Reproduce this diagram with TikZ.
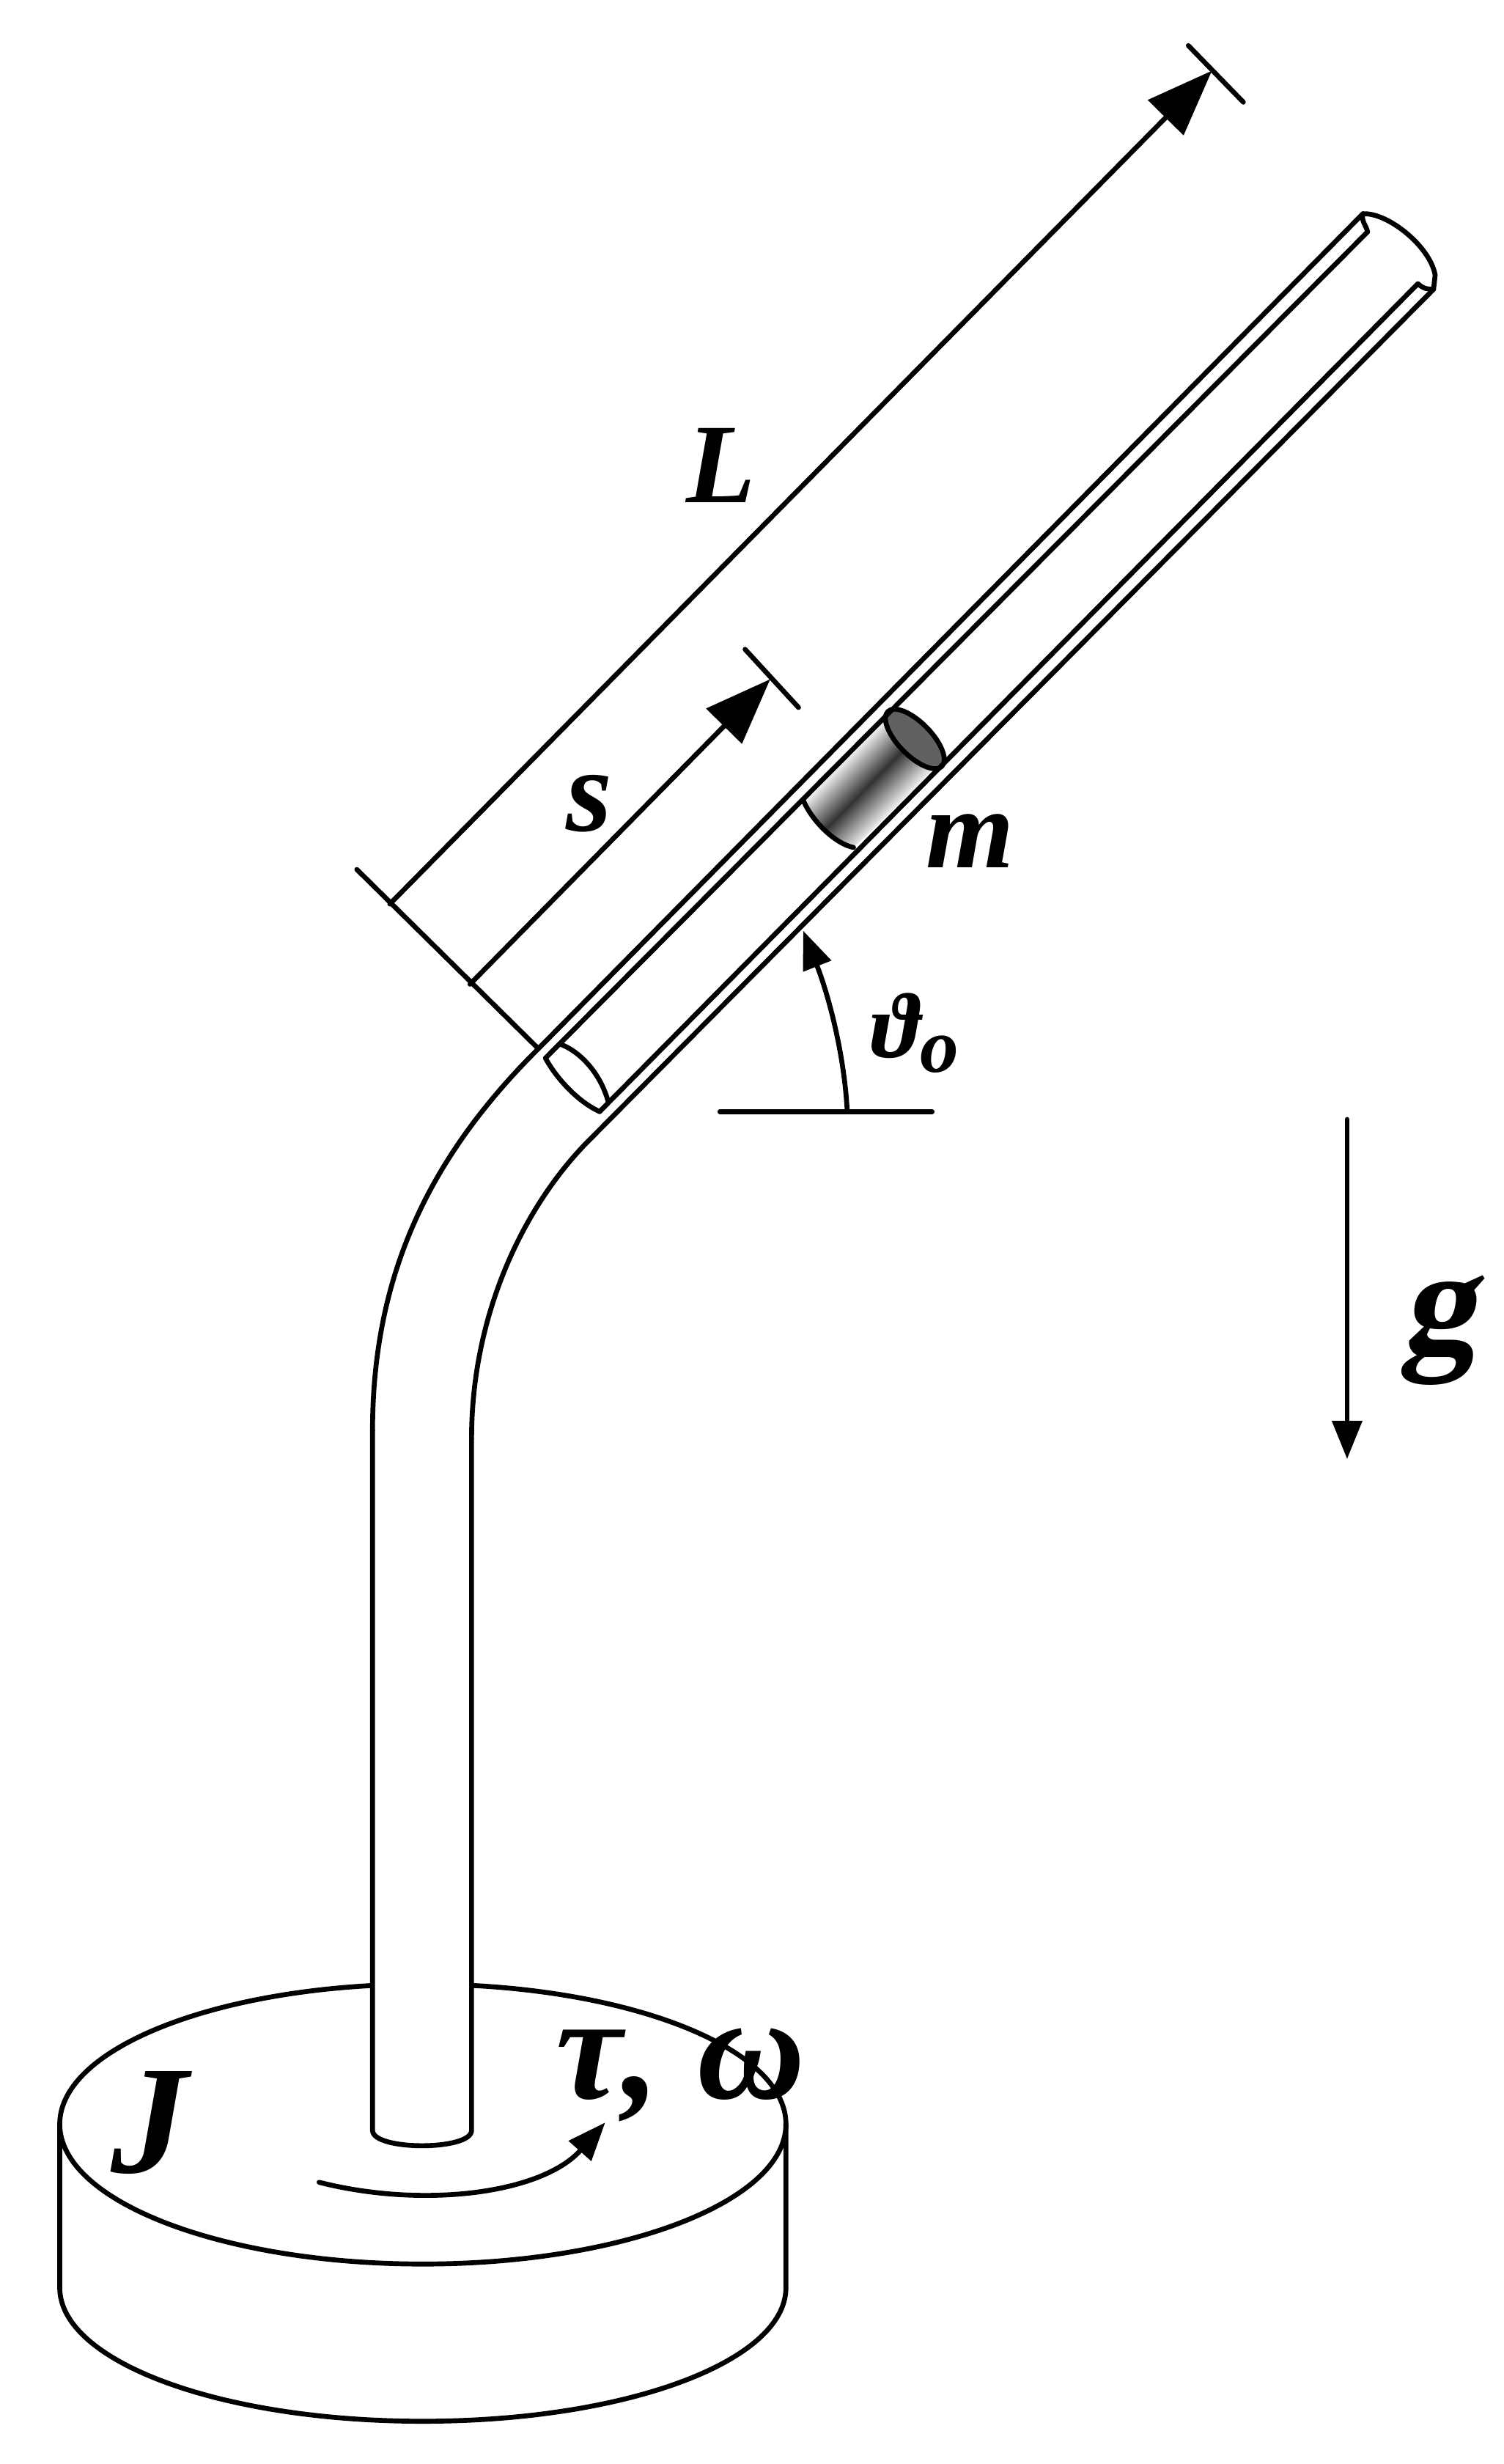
\documentclass[tikz,border=0pt]{standalone}
\usepackage{fontspec}
\setmainfont{Liberation Serif}
\newfontfamily\slantfont[FakeSlant=0.18]{Liberation Serif}
\usetikzlibrary{arrows.meta, shapes.geometric}
\tikzset{paperfig/.style={x=0.021447cm, y=-0.021447cm, line width=1.9pt, line cap=round, line join=round}}
\tikzset{arr/.style={draw, -{Triangle[length=0.9cm, width=0.67cm]}}}
\tikzset{arr2/.style={draw, -{Triangle[length=0.52cm, width=0.4cm]}}}
\tikzset{lbl/.style={inner sep=0, font=\bfseries\itshape\fontsize{#1}{#1}\selectfont}}

\begin{document}
\begin{tikzpicture}[paperfig]
	\fill[white] (0,0) rectangle (956.8,1567.2);
	\useasboundingbox (0,0) rectangle (956.8,1567.2);
	%
	% disc
	\draw (269,1351) ellipse[x radius=231, y radius=89];
	\draw (38,1351) -- (38,1455) .. controls (38,1502) and (140,1540) .. (269,1540)
		.. controls (398,1540) and (500,1502) .. (500,1455) -- (500,1351);
	%
	% post, then tube
	\coordinate (oU0) at (342.5,667);  \coordinate (oU1) at (867,136);
	\coordinate (iU0) at (347,673);    \coordinate (iU1) at (870,147.5);
	\coordinate (iL0) at (381.5,707);  \coordinate (iL1) at (902,180.5);
	\coordinate (oL0) at (377,723);    \coordinate (oL1) at (912,184);
	\draw[fill=white] (237,910) -- (237,1355) .. controls (237,1368) and (300,1368) .. (300,1355) -- (300,915);
	\draw (oU0) .. controls (274,735) and (237,810) .. (237,910);
	\draw (oL0) .. controls (334,765) and (300,835) .. (300,915);
	%
	% mass
	\begin{scope}
		\clip (511,509) -- (564,454) -- (600,485) -- (543,539)
			.. controls (532,537) and (519,523) .. (511,509) -- cycle;
		\node[rotate=45.5, inner sep=0] (body) at (555,497) {\tikz\shade[top color=white, bottom color=white, middle color=black!80] (0,0) rectangle (2.4cm,1.02cm);};
	\end{scope}
	\draw (511,509) .. controls (517,523) and (532,537) .. (543,539);
	\node[ellipse, draw, rotate=-45.5, fill=black!62, inner sep=0, minimum width=1.05cm, minimum height=0.45cm] (cap) at (582,470) {};
	%
	\draw (oU0) -- (oU1);
	\draw (iU0) -- (iU1);
	\draw (iL0) -- (iL1);
	\draw (oL0) -- (oL1);
	% open ends
	\draw (iU0) .. controls (354,686) and (368,701) .. (iL0);
	\draw (356,664) .. controls (368,668) and (382,682) .. (387,701);
	\draw (oU1) .. controls (883,135) and (910,157) .. (913,175) -- (oL1);
	\draw (oU1) .. controls (866,141) and (869,143) .. (iU1);
	\draw (iL1) .. controls (906,184) and (909,184) .. (oL1);
	%
	% dimensions
	\coordinate (tickA) at (227,553);
	\coordinate (Lstart) at (248,575);
	\coordinate (Ltip) at (771,45);
	\coordinate (sstart) at (299,626);
	\coordinate (stip) at (490,432);
	\draw (tickA) -- (oU0);
	\draw (756,29) -- (791,65);
	\draw (474,413) -- (508,450);
	\draw[arr] (Lstart) -- (Ltip);
	\draw[arr] (sstart) -- (stip);
	%
	% angle and gravity
	\draw (458,707) -- (593,707);
	\draw[arr2] (539,707) .. controls (537,668) and (526,630) .. (511,592);
	\draw[arr2] (857,712) -- (857,928);
	\draw[arr2] (203,1388) .. controls (270,1405) and (345,1395) .. (385,1350);
	%
	\node[lbl=44] (L) at (458.5,296) {L};
	\node[lbl=46] (s) at (375,511) {s};
	\node[lbl=44] (m) at (617,535) {m};
	\node[lbl=36] (theta) at (582,657) {ϑ\raisebox{-0.35ex}{\fontsize{30}{30}\selectfont o}};
	\node[inner sep=0, font=\slantfont\bfseries\fontsize{58}{58}\selectfont] (g) at (915,846) {g};
	\node[lbl=60] (J) at (95,1350) {J};
	\node[lbl=58] (tau) at (433,1320) {τ, ω};
\end{tikzpicture}
\end{document}
